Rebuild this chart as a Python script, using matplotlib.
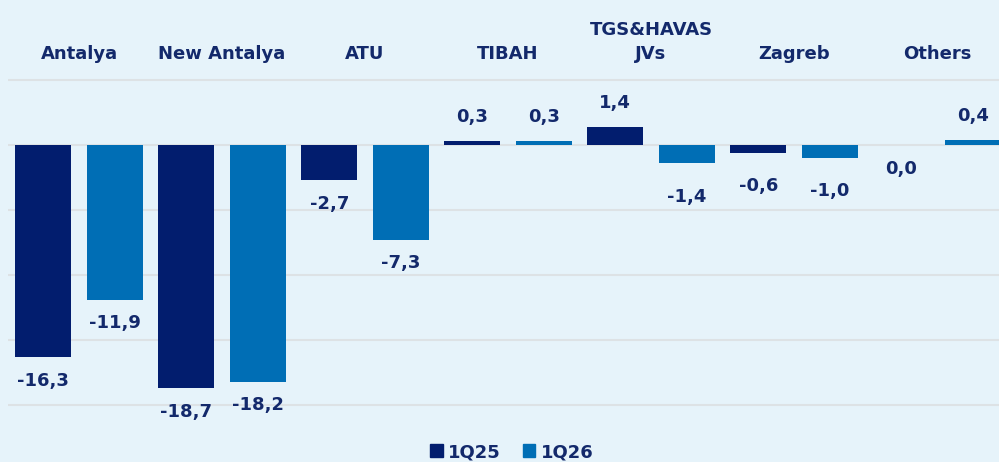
import matplotlib.pyplot as plt
import numpy as np
from matplotlib.patches import Patch

categories = ['Antalya', 'New Antalya', 'ATU', 'TIBAH', 'TGS&HAVAS\nJVs', 'Zagreb', 'Others']
q25 = [-16.3, -18.7, -2.7, 0.3, 1.4, -0.6, 0.0]
q26 = [-11.9, -18.2, -7.3, 0.3, -1.4, -1.0, 0.4]
series_names = ['1Q25', '1Q26']

BG = '#E6F3FA'
NAVY = '#021D6E'
BLUE = '#006EB5'
TEXT = '#13296B'
GRID = '#DDE2E5'

plt.rcParams['font.family'] = ['DejaVu Sans']

fig = plt.figure(figsize=(9.99, 4.62), dpi=100, facecolor=BG)
# axes runs a bit past the right edge, the original is cropped there
ax = fig.add_axes([7.5 / 999, 44 / 462, 1001 / 999, 418 / 462])
ax.set_facecolor(BG)

x = np.arange(len(categories))
w = 0.39
ax.bar(x - 0.25, q25, w, color=NAVY, zorder=3)
ax.bar(x + 0.25, q26, w, color=BLUE, zorder=3)

ax.set_xlim(-0.5, 6.5)
ax.set_ylim(-21, 11.15)
ax.set_yticks([-20, -15, -10, -5, 0, 5])
ax.grid(axis='y', color=GRID, linewidth=1.5, zorder=0)
ax.tick_params(left=False, bottom=False, labelleft=False, labelbottom=False)
for s in ax.spines.values():
    s.set_visible(False)

fs = 13
for vals, off in [(q25, -0.25), (q26, 0.25)]:
    for xi, v in zip(x, vals):
        lbl = f'{v:.1f}'.replace('.', ',')
        # small negative bars get their labels pushed a bit lower, like the original
        dy = 17 if v > 0 else (-24 if -1.5 < v < 0 else -17)
        ax.annotate(lbl, (xi + off, v), xytext=(0, dy), textcoords='offset points',
                    ha='center', va='center', fontsize=fs, fontweight='bold', color=TEXT)

for xi, c in zip(x, categories):
    ax.text(xi, 6.3, c, ha='center', va='bottom', fontsize=fs, fontweight='bold',
            color=TEXT, linespacing=1.45)

handles = [Patch(color=NAVY), Patch(color=BLUE)]
fig.legend(handles, series_names, loc='center', bbox_to_anchor=(512 / 999, 1 - 452 / 462),
           ncol=2, frameon=False, handlelength=0.7, handleheight=0.7, handletextpad=0.3,
           columnspacing=1.2, prop={'size': fs, 'weight': 'bold'}, labelcolor=TEXT)

fig.savefig('out.png', dpi=100, facecolor=BG)
